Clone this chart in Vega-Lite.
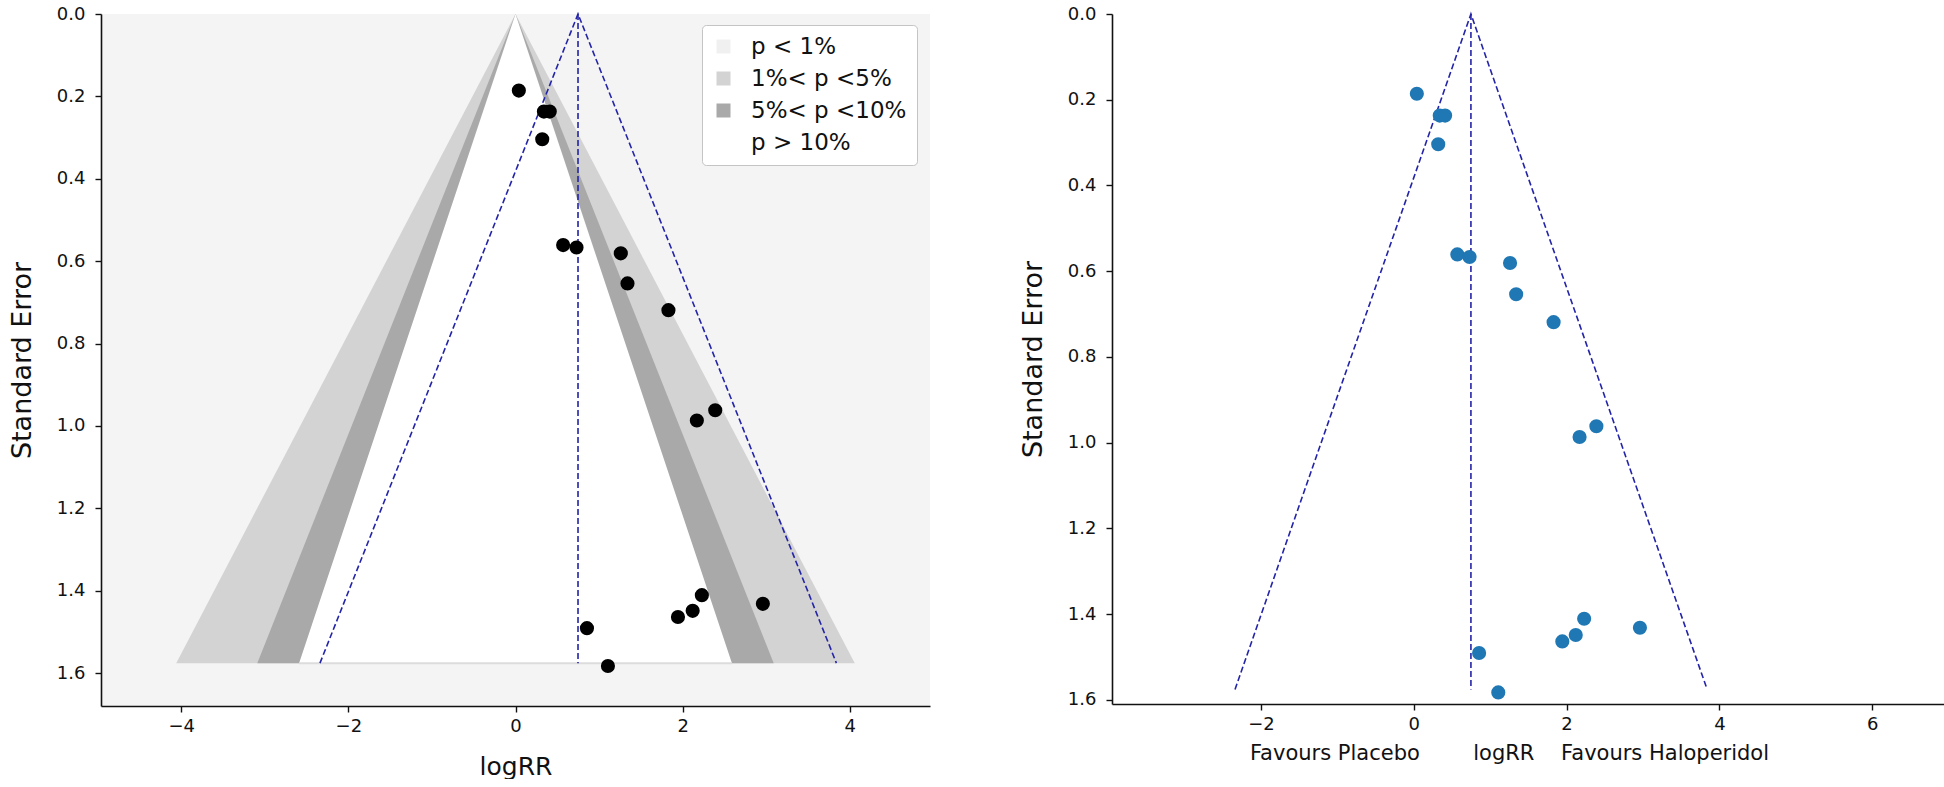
{
  "$schema": "https://vega.github.io/schema/vega-lite/v6.json",
  "background": "white",
  "padding": {"left": 8, "top": 5, "right": 0, "bottom": 0},
  "spacing": 89,
  "config": {
    "font": "DejaVu Sans",
    "view": {"stroke": null},
    "axis": {
      "domainColor": "#111111", "domainWidth": 1.6,
      "tickColor": "#111111", "tickWidth": 1.4, "tickSize": 6,
      "labelFontSize": 18, "labelColor": "#111111",
      "grid": false, "titleFontWeight": "normal", "titleColor": "#111111",
      "labelFont": "DejaVu Sans", "titleFont": "DejaVu Sans"
    }
  },
  "datasets": {
    "bands": [
      {"band": "1%< p <5%", "se": 0, "x": 0, "x2": 0},
      {"band": "1%< p <5%", "se": 1.576, "x": -4.06, "x2": 4.06},
      {"band": "5%< p <10%", "se": 0, "x": 0, "x2": 0},
      {"band": "5%< p <10%", "se": 1.576, "x": -3.09, "x2": 3.09},
      {"band": "p > 10%", "se": 0, "x": 0, "x2": 0},
      {"band": "p > 10%", "se": 1.576, "x": -2.59, "x2": 2.59}
    ],
    "funnel": [
      {"line": "cone", "o": 1, "x": -2.34, "se": 1.576},
      {"line": "cone", "o": 2, "x": 0.748, "se": 0},
      {"line": "cone", "o": 3, "x": 3.84, "se": 1.576},
      {"line": "mid", "o": 1, "x": 0.748, "se": 0},
      {"line": "mid", "o": 2, "x": 0.748, "se": 1.576}
    ],
    "studies": [
      {"x": 0.04, "se": 0.186},
      {"x": 0.34, "se": 0.237},
      {"x": 0.41, "se": 0.237},
      {"x": 0.32, "se": 0.304},
      {"x": 0.57, "se": 0.561},
      {"x": 0.73, "se": 0.567},
      {"x": 1.26, "se": 0.581},
      {"x": 1.34, "se": 0.654},
      {"x": 1.83, "se": 0.719},
      {"x": 2.39, "se": 0.962},
      {"x": 2.17, "se": 0.987},
      {"x": 2.23, "se": 1.411},
      {"x": 2.96, "se": 1.432},
      {"x": 2.12, "se": 1.449},
      {"x": 1.944, "se": 1.464},
      {"x": 0.855, "se": 1.491},
      {"x": 1.106, "se": 1.583}
    ]
  },
  "hconcat": [
    {
      "width": 829,
      "height": 692,
      "view": {"fill": "#f4f4f4", "stroke": null},
      "layer": [
        {
          "data": {"name": "bands"},
          "transform": [{"filter": "datum.band === '1%< p <5%'"}],
          "mark": {"type": "area", "orient": "horizontal"},
          "encoding": {
            "y": {"field": "se", "type": "quantitative",
              "scale": {"domain": [0, 1.68], "reverse": true, "nice": false, "zero": false},
              "axis": {"title": "Standard Error", "titleFontSize": 27, "titlePadding": 20, "labelPadding": 10, "values": [0, 0.2, 0.4, 0.6, 0.8, 1.0, 1.2, 1.4, 1.6], "format": ".1f"}},
            "x": {"field": "x", "type": "quantitative",
              "scale": {"domain": [-4.96, 4.96], "nice": false, "zero": false},
              "axis": {"title": "logRR", "titleFontSize": 25, "titlePadding": 19, "labelPadding": 5, "values": [-4, -2, 0, 2, 4], "format": "d"}},
            "x2": {"field": "x2"},
            "color": {"field": "band", "type": "nominal",
              "scale": {"domain": ["p < 1%", "1%< p <5%", "5%< p <10%", "p > 10%"], "range": ["#f0f0f0", "#d3d3d3", "#a9a9a9", "#ffffff"]},
              "legend": {"orient": "none", "legendX": 601, "legendY": 11, "title": null,
                "symbolType": "square", "symbolSize": 196, "symbolStrokeWidth": 0,
                "labelFontSize": 23, "labelColor": "#111111", "labelOffset": 16, "symbolOffset": 0,
                "padding": 10, "rowPadding": 8,
                "fillColor": "white", "strokeColor": "#c4c4c4", "cornerRadius": 4}}
          }
        },
        {
          "data": {"name": "bands"},
          "transform": [{"filter": "datum.band === '5%< p <10%'"}],
          "mark": {"type": "area", "orient": "horizontal"},
          "encoding": {
            "y": {"field": "se", "type": "quantitative"},
            "x": {"field": "x", "type": "quantitative"},
            "x2": {"field": "x2"},
            "color": {"field": "band", "type": "nominal"}
          }
        },
        {
          "data": {"name": "bands"},
          "transform": [{"filter": "datum.band === 'p > 10%'"}],
          "mark": {"type": "area", "orient": "horizontal"},
          "encoding": {
            "y": {"field": "se", "type": "quantitative"},
            "x": {"field": "x", "type": "quantitative"},
            "x2": {"field": "x2"},
            "color": {"field": "band", "type": "nominal"}
          }
        },
        {
          "data": {"name": "bands"},
          "transform": [{"filter": "datum.band === 'p > 10%' && datum.se > 0"}],
          "mark": {"type": "rule", "color": "#dcdcdc", "strokeWidth": 2},
          "encoding": {
            "y": {"field": "se", "type": "quantitative"},
            "x": {"field": "x", "type": "quantitative"},
            "x2": {"field": "x2"}
          }
        },
        {
          "data": {"name": "funnel"},
          "mark": {"type": "line", "color": "#2424a8", "strokeWidth": 1.6, "strokeDash": [6, 3]},
          "encoding": {
            "y": {"field": "se", "type": "quantitative"},
            "x": {"field": "x", "type": "quantitative"},
            "detail": {"field": "line"},
            "order": {"field": "o"}
          }
        },
        {
          "data": {"name": "studies"},
          "mark": {"type": "circle", "color": "black", "opacity": 1, "size": 200},
          "encoding": {
            "y": {"field": "se", "type": "quantitative"},
            "x": {"field": "x", "type": "quantitative"}
          }
        }
      ]
    },
    {
      "width": 832,
      "height": 690,
      "layer": [
        {
          "data": {"name": "funnel"},
          "mark": {"type": "line", "color": "#2424a8", "strokeWidth": 1.6, "strokeDash": [6, 3]},
          "encoding": {
            "y": {"field": "se", "type": "quantitative",
              "scale": {"domain": [0, 1.61], "reverse": true, "nice": false, "zero": false},
              "axis": {"title": "Standard Error", "titleFontSize": 27, "titlePadding": 20, "labelPadding": 10, "values": [0, 0.2, 0.4, 0.6, 0.8, 1.0, 1.2, 1.4, 1.6], "format": ".1f"}},
            "x": {"field": "x", "type": "quantitative",
              "scale": {"domain": [-3.95, 6.94], "nice": false, "zero": false},
              "axis": {"title": "Favours Placebo\u00a0\u00a0\u00a0\u00a0\u00a0\u00a0\u00a0\u00a0logRR\u00a0\u00a0\u00a0\u00a0Favours Haloperidol", "titleFontSize": 21, "titlePadding": 9, "titleX": 397, "titleAlign": "center", "labelPadding": 5, "values": [-2, 0, 2, 4, 6], "format": "d"}},
            "detail": {"field": "line"},
            "order": {"field": "o"}
          }
        },
        {
          "data": {"name": "studies"},
          "mark": {"type": "circle", "color": "#1f77b4", "opacity": 1, "size": 200},
          "encoding": {
            "y": {"field": "se", "type": "quantitative"},
            "x": {"field": "x", "type": "quantitative"}
          }
        }
      ]
    }
  ]
}
